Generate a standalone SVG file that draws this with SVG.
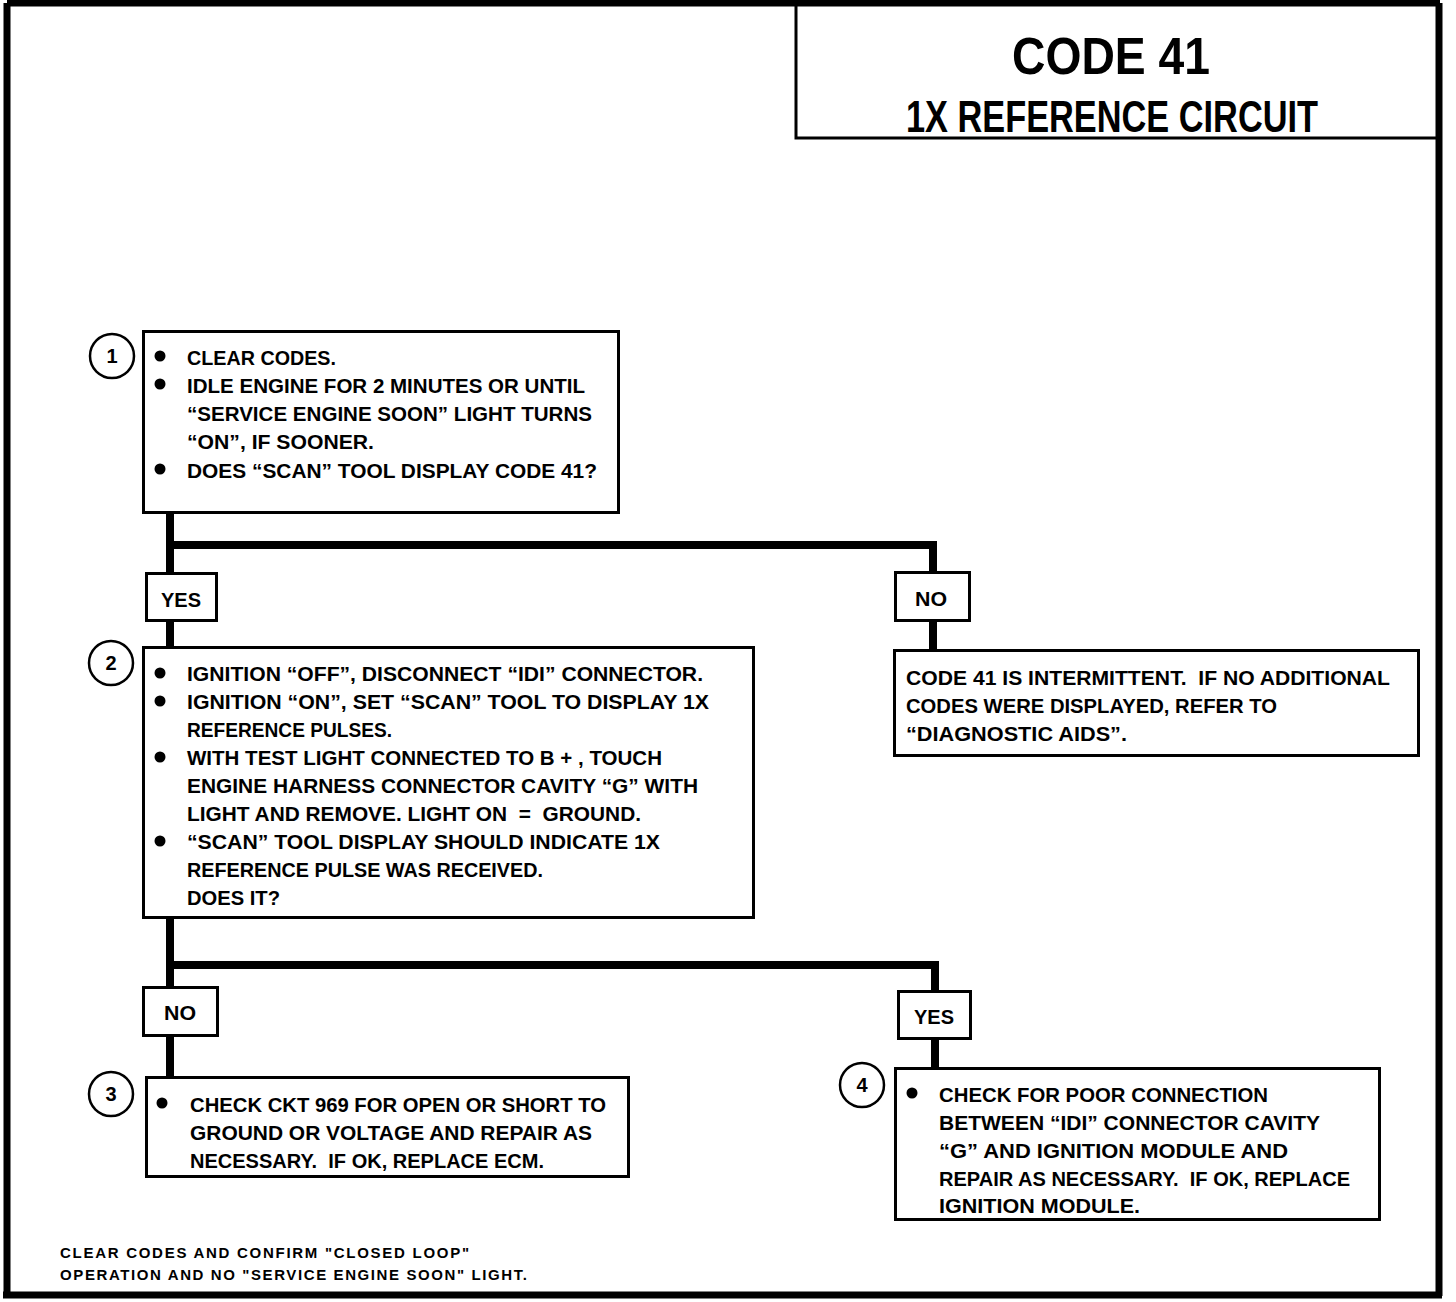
<svg xmlns="http://www.w3.org/2000/svg" width="1456" height="1302" viewBox="0 0 1456 1302">
<style>
.box{fill:#fff;stroke:#000;stroke-width:3}
.lbl{fill:#fff;stroke:#000;stroke-width:3}
.t{font-family:"Liberation Sans",Arial,sans-serif;font-weight:bold;font-size:21px;fill:#000}
.lt{font-family:"Liberation Sans",Arial,sans-serif;font-weight:bold;font-size:20px;fill:#000;text-anchor:middle}
.num{font-family:"Liberation Sans",Arial,sans-serif;font-weight:bold;font-size:20px;fill:#000;text-anchor:middle}
.circ{fill:#fff;stroke:#000;stroke-width:2.5}
.conn{fill:none;stroke:#000;stroke-width:8}
.foot{font-family:"Liberation Sans",Arial,sans-serif;font-weight:bold;font-size:15px;fill:#000}
</style>
<rect width="1456" height="1302" fill="#fff"/>
<g id="frame">
<path d="M7,3 H1440 M7,3 V1296 M3,1295 H1442 M1439,3 V1296" fill="none" stroke="#000" stroke-width="7"/>
</g>
<g id="title">
<path d="M796,5 V138 H1436" fill="none" stroke="#000" stroke-width="3"/>
<text x="1111" y="74" font-family="'Liberation Sans',Arial,sans-serif" font-weight="bold" font-size="52" text-anchor="middle" textLength="198" lengthAdjust="spacingAndGlyphs">CODE 41</text>
<text x="1112" y="132" font-family="'Liberation Sans',Arial,sans-serif" font-weight="bold" font-size="44" text-anchor="middle" textLength="412" lengthAdjust="spacingAndGlyphs">1X REFERENCE CIRCUIT</text>
</g>
<g id="connectors">
<path class="conn" d="M170,513 V573 M170,621 V647 M166,545 H937 M933,541 V573 M933,621 V650"/>
<path class="conn" d="M170,918 V987 M170,1036 V1077 M166,965 H939 M935,961 V991 M935,1039 V1068"/>
</g>
<g id="step1">
<rect class="box" x="143.5" y="331.5" width="475" height="181"/>
<circle class="circ" cx="112" cy="356" r="22"/>
<text class="num" x="112" y="363">1</text>
<circle cx="160" cy="356" r="5.5"/><circle cx="160" cy="384" r="5.5"/><circle cx="160" cy="469" r="5.5"/>
<text class="t" x="187" y="365" textLength="149" lengthAdjust="spacingAndGlyphs">CLEAR CODES.</text>
<text class="t" x="187" y="393" textLength="398" lengthAdjust="spacingAndGlyphs">IDLE ENGINE FOR 2 MINUTES OR UNTIL</text>
<text class="t" x="187" y="421" textLength="405" lengthAdjust="spacingAndGlyphs">“SERVICE ENGINE SOON” LIGHT TURNS</text>
<text class="t" x="187" y="449" textLength="187" lengthAdjust="spacingAndGlyphs">“ON”, IF SOONER.</text>
<text class="t" x="187" y="478" textLength="410" lengthAdjust="spacingAndGlyphs">DOES “SCAN” TOOL DISPLAY CODE 41?</text>
</g>
<g id="yes1">
<rect class="lbl" x="146.5" y="573.5" width="70" height="47"/>
<text class="lt" x="181" y="607" textLength="40" lengthAdjust="spacingAndGlyphs">YES</text>
</g>
<g id="no1">
<rect class="lbl" x="895.5" y="572.5" width="74" height="48"/>
<text class="lt" x="931" y="606" textLength="32" lengthAdjust="spacingAndGlyphs">NO</text>
</g>
<g id="step2">
<rect class="box" x="143.5" y="647.5" width="610" height="270"/>
<circle class="circ" cx="111" cy="663" r="22"/>
<text class="num" x="111" y="670">2</text>
<circle cx="160" cy="673" r="5.5"/><circle cx="160" cy="701" r="5.5"/><circle cx="160" cy="757" r="5.5"/><circle cx="160" cy="841" r="5.5"/>
<text class="t" x="187" y="681" textLength="516" lengthAdjust="spacingAndGlyphs">IGNITION “OFF”, DISCONNECT “IDI” CONNECTOR.</text>
<text class="t" x="187" y="709" textLength="522" lengthAdjust="spacingAndGlyphs">IGNITION “ON”, SET “SCAN” TOOL TO DISPLAY 1X</text>
<text class="t" x="187" y="737" textLength="205" lengthAdjust="spacingAndGlyphs">REFERENCE PULSES.</text>
<text class="t" x="187" y="765" textLength="475" lengthAdjust="spacingAndGlyphs">WITH TEST LIGHT CONNECTED TO B + , TOUCH</text>
<text class="t" x="187" y="793" textLength="511" lengthAdjust="spacingAndGlyphs">ENGINE HARNESS CONNECTOR CAVITY “G” WITH</text>
<text class="t" x="187" y="821" textLength="454" lengthAdjust="spacingAndGlyphs" xml:space="preserve">LIGHT AND REMOVE. LIGHT ON  =  GROUND.</text>
<text class="t" x="187" y="849" textLength="473" lengthAdjust="spacingAndGlyphs">“SCAN” TOOL DISPLAY SHOULD INDICATE 1X</text>
<text class="t" x="187" y="877" textLength="356" lengthAdjust="spacingAndGlyphs">REFERENCE PULSE WAS RECEIVED.</text>
<text class="t" x="187" y="905" textLength="93" lengthAdjust="spacingAndGlyphs">DOES IT?</text>
</g>
<g id="intermittent">
<rect class="box" x="894.5" y="650.5" width="524" height="105"/>
<text class="t" x="906" y="685" textLength="484" lengthAdjust="spacingAndGlyphs" xml:space="preserve">CODE 41 IS INTERMITTENT.  IF NO ADDITIONAL</text>
<text class="t" x="906" y="713" textLength="371" lengthAdjust="spacingAndGlyphs">CODES WERE DISPLAYED, REFER TO</text>
<text class="t" x="906" y="741" textLength="221" lengthAdjust="spacingAndGlyphs">“DIAGNOSTIC AIDS”.</text>
</g>
<g id="no2">
<rect class="lbl" x="143.5" y="987.5" width="74" height="48"/>
<text class="lt" x="180" y="1020" textLength="32" lengthAdjust="spacingAndGlyphs">NO</text>
</g>
<g id="yes2">
<rect class="lbl" x="898.5" y="991.5" width="72" height="47"/>
<text class="lt" x="934" y="1024" textLength="40" lengthAdjust="spacingAndGlyphs">YES</text>
</g>
<g id="step3">
<rect class="box" x="146.5" y="1077.5" width="482" height="99"/>
<circle class="circ" cx="111" cy="1094" r="22"/>
<text class="num" x="111" y="1101">3</text>
<circle cx="162" cy="1103" r="5.5"/>
<text class="t" x="190" y="1112" textLength="416" lengthAdjust="spacingAndGlyphs">CHECK CKT 969 FOR OPEN OR SHORT TO</text>
<text class="t" x="190" y="1140" textLength="402" lengthAdjust="spacingAndGlyphs">GROUND OR VOLTAGE AND REPAIR AS</text>
<text class="t" x="190" y="1168" textLength="354" lengthAdjust="spacingAndGlyphs" xml:space="preserve">NECESSARY.  IF OK, REPLACE ECM.</text>
</g>
<g id="step4">
<rect class="box" x="895.5" y="1068.5" width="484" height="151"/>
<circle class="circ" cx="862" cy="1085" r="22"/>
<text class="num" x="862" y="1092">4</text>
<circle cx="912" cy="1093" r="5.5"/>
<text class="t" x="939" y="1102" textLength="329" lengthAdjust="spacingAndGlyphs">CHECK FOR POOR CONNECTION</text>
<text class="t" x="939" y="1130" textLength="381" lengthAdjust="spacingAndGlyphs">BETWEEN “IDI” CONNECTOR CAVITY</text>
<text class="t" x="939" y="1158" textLength="349" lengthAdjust="spacingAndGlyphs">“G” AND IGNITION MODULE AND</text>
<text class="t" x="939" y="1186" textLength="411" lengthAdjust="spacingAndGlyphs" xml:space="preserve">REPAIR AS NECESSARY.  IF OK, REPLACE</text>
<text class="t" x="939" y="1213" textLength="201" lengthAdjust="spacingAndGlyphs">IGNITION MODULE.</text>
</g>
<g id="footnote">
<text class="foot" x="60" y="1258" textLength="409" lengthAdjust="spacing">CLEAR CODES AND CONFIRM "CLOSED LOOP"</text>
<text class="foot" x="60" y="1280" textLength="467" lengthAdjust="spacing">OPERATION AND NO "SERVICE ENGINE SOON" LIGHT.</text>
</g>
</svg>
